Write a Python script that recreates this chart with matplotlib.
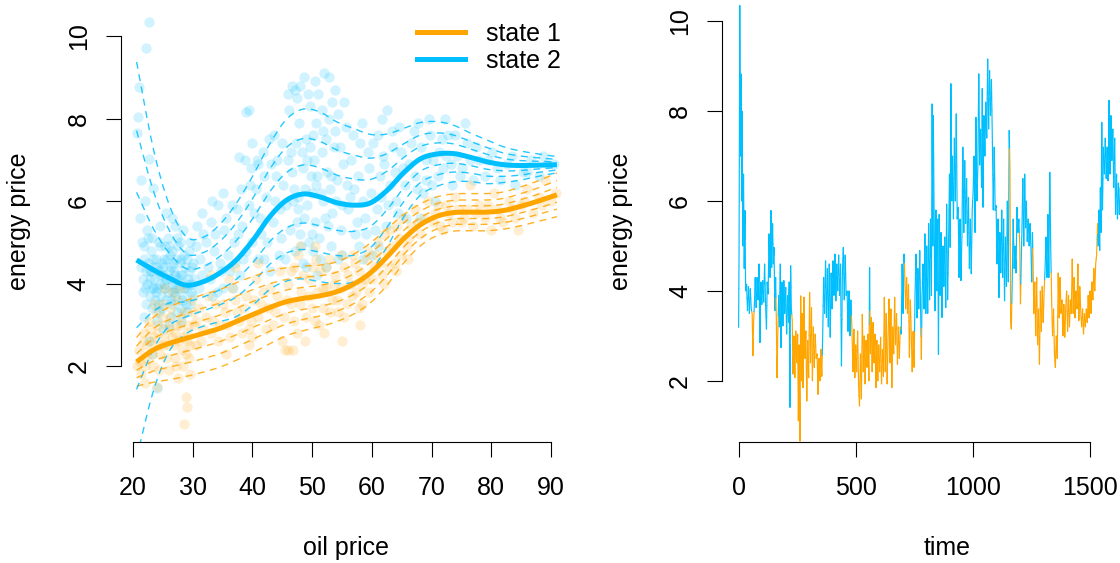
import numpy as np
import matplotlib
matplotlib.use("Agg")
import matplotlib.pyplot as plt
from matplotlib.collections import LineCollection
from matplotlib.lines import Line2D

plt.rcParams['font.family'] = ['Liberation Sans', 'DejaVu Sans']

ORANGE = '#FFA500'
BLUE = '#00BFFF'

# ---------------- left panel: state-dependent curves ----------------
curve_oil = [20.6, 23.4, 26.1, 28.9, 31.7, 34.5, 37.3, 40.1, 42.9, 45.7, 48.5, 51.3, 54.1,
             56.9, 59.7, 62.5, 65.3, 68.1, 70.9, 73.7, 76.5, 79.3, 82.1, 84.9, 87.7, 91.0]
mean_state1 = [2.10, 2.39, 2.55, 2.67, 2.79, 2.91, 3.08, 3.25, 3.42, 3.56, 3.64, 3.70, 3.80,
               3.98, 4.25, 4.64, 5.08, 5.42, 5.63, 5.72, 5.73, 5.73, 5.77, 5.87, 5.99, 6.15]
mean_state2 = [4.57, 4.33, 4.13, 3.96, 4.04, 4.25, 4.57, 5.05, 5.62, 6.02, 6.17, 6.10, 5.96,
               5.90, 5.95, 6.25, 6.68, 7.02, 7.14, 7.15, 7.06, 6.95, 6.88, 6.86, 6.87, 6.88]
sd_state1 = [0.30, 0.40, 0.45, 0.47, 0.48, 0.48, 0.48, 0.47, 0.45, 0.42, 0.40, 0.38, 0.37,
             0.37, 0.37, 0.35, 0.30, 0.26, 0.24, 0.23, 0.23, 0.23, 0.23, 0.24, 0.25, 0.27]
sd_state2 = [2.45, 1.50, 0.90, 0.60, 0.55, 0.60, 0.70, 0.80, 0.90, 1.00, 1.05, 1.05, 1.00,
             0.95, 0.85, 0.70, 0.55, 0.45, 0.40, 0.35, 0.30, 0.27, 0.22, 0.18, 0.14, 0.10]
quantile_z = [-1.96, -1.28, -0.67, 0.67, 1.28, 1.96]

# scatter points (oil price, energy price)
blue_oil = [22.6, 22.2, 21.0, 20.9, 20.7, 22.7, 21.3, 23.4, 22.0, 21.2, 25.5, 26.5, 27.0,
            21.5, 21.8, 22.1, 22.4, 22.8, 23.0, 23.3, 23.6, 23.9, 24.2, 24.5, 24.8, 25.0,
            25.3, 25.6, 25.9, 26.2, 26.4, 26.7, 27.0, 27.3, 27.6, 27.9, 28.2, 28.5, 28.8,
            29.1, 29.4, 29.7, 30.0, 23.1, 24.0, 25.1, 26.3, 21.9, 22.6, 24.6, 28.4, 29.5,
            22.3, 26.0, 28.0, 24.0, 23.2,
            22.5, 23.5, 24.3, 25.2, 26.0, 26.8, 27.5, 28.3, 29.0, 24.7,
            23.8, 25.7, 27.2, 28.7, 22.9, 24.4, 26.5, 28.1, 29.9, 21.7,
            25.4, 27.8, 23.2, 29.6, 26.9,
            21.3, 21.6, 21.9, 22.2, 22.5, 22.8, 23.1, 23.4, 23.7, 24.0,
            24.3, 24.6, 24.9, 25.2, 25.5, 25.8, 26.1, 26.4, 26.7, 27.0,
            27.3, 27.6, 27.9, 28.2, 28.5, 28.8, 29.1, 29.4, 29.7, 30.0,
            22.0, 23.0, 24.1, 25.1, 26.2, 27.1, 28.1, 29.2, 24.5, 26.6,
            30.5, 31.2, 31.8, 32.5, 33.0, 33.6, 34.2, 34.8, 35.3, 35.9, 36.5, 37.1, 37.6,
            38.1, 31.0, 33.2, 35.0, 36.8, 38.5, 30.2,
            30.8, 31.5, 32.2, 32.9, 33.8, 34.5, 35.6, 36.2, 36.9, 37.4, 33.3, 35.1, 31.6,
            34.0, 37.9,
            39.0, 39.5, 37.7, 38.8, 39.6, 40.3, 40.9, 41.5, 42.2, 42.8, 43.4, 44.0, 44.5,
            45.0, 45.6, 46.2, 46.6, 47.2, 41.0, 43.0, 44.8, 40.0, 41.8,
            38.3, 38.9, 39.4, 40.0, 40.6, 41.2, 41.9, 42.5, 43.1, 43.7, 44.2, 39.8, 42.0,
            43.6, 40.8,
            46.5, 47.0, 47.4, 47.8, 48.1, 48.5, 48.9, 49.2, 49.6, 50.0, 50.3, 50.7, 51.0,
            51.4, 51.8, 52.1, 52.5, 52.9, 53.2, 53.6, 54.0, 54.4, 54.8, 55.2, 55.6, 56.0,
            49.0, 50.8, 52.0, 53.9, 47.5, 48.7, 51.5, 46.8, 50.2, 53.0, 55.0, 49.8,
            44.6, 45.2, 45.5, 45.9, 46.3, 46.7, 47.1, 47.3, 47.7, 48.0,
            48.3, 48.6, 48.8, 49.1, 49.4, 49.7, 50.0, 50.4, 50.6, 50.9,
            51.2, 51.6, 51.9, 52.3, 52.6, 52.8, 53.1, 53.4, 53.8, 54.2,
            54.6, 55.0, 55.4, 55.8, 46.0, 47.9, 49.3, 50.5, 51.7, 53.3,
            48.4, 50.1, 52.4, 54.4, 47.6,
            56.5, 57.0, 57.5, 58.0, 58.6, 59.1, 59.6, 60.2, 60.8, 61.3, 61.9, 62.4, 63.0,
            63.5, 64.1, 64.6, 65.2, 65.7, 57.8, 60.0, 62.5, 61.7,
            56.3, 56.8, 57.2, 57.7, 58.3, 58.8, 59.4, 59.9, 60.5, 61.0, 61.6, 62.1, 62.7,
            63.3, 63.8, 64.4, 64.9, 65.5, 58.5, 61.0,
            66.5, 67.2, 67.8, 68.5, 69.1, 69.8, 70.5, 71.2, 72.0, 72.8, 73.5, 74.3, 75.1,
            76.0, 77.0, 78.0, 79.0, 80.2, 81.5, 82.7, 84.0, 85.3, 86.6, 88.0, 89.3, 90.5,
            72.2, 75.6, 70.0, 68.0,
            66.2, 67.0, 67.6, 68.3, 69.0, 69.6, 70.3, 71.0, 71.7, 72.5, 73.2, 74.0, 74.8,
            76.5, 77.5, 79.5, 81.0, 83.5, 86.0, 88.7]
blue_energy = [10.35, 9.72, 8.77, 8.04, 7.66, 7.03, 6.51, 6.31, 6.0, 5.6, 5.7, 5.6, 5.4,
               5.0, 4.6, 4.3, 4.0, 3.7, 4.8, 4.4, 4.1, 3.8, 3.5, 4.9, 4.5, 4.2,
               3.9, 3.6, 5.1, 4.7, 4.4, 4.0, 3.7, 3.3, 4.9, 4.5, 4.2, 3.9, 3.5,
               4.6, 4.3, 4.0, 3.7, 3.4, 3.1, 2.9, 3.2, 3.2, 2.6, 5.4, 5.3, 5.0,
               5.3, 3.0, 3.1, 1.47, 2.3,
               4.5, 3.9, 4.3, 4.0, 4.3, 3.8, 4.1, 3.7, 3.9, 3.7,
               4.6, 4.6, 4.6, 4.4, 4.1, 3.3, 3.5, 3.4, 4.4, 4.1,
               4.9, 5.0, 5.1, 3.5, 4.3,
               4.4, 3.8, 4.9, 3.5, 5.1, 4.3, 3.9, 4.6, 3.6, 4.4,
               5.0, 4.0, 3.4, 4.6, 4.1, 3.8, 4.9, 3.6, 4.5, 4.2,
               5.1, 3.9, 4.2, 3.6, 4.7, 4.0, 3.3, 4.8, 3.8, 4.5,
               3.9, 4.3, 3.9, 4.4, 4.1, 3.9, 4.6, 4.1, 4.2, 4.8,
               4.9, 4.6, 5.2, 4.4, 5.5, 4.8, 5.9, 4.3, 5.3, 4.7, 5.9, 4.5, 5.2,
               6.3, 3.9, 3.7, 3.9, 3.9, 4.6, 4.1,
               5.4, 4.2, 5.0, 4.1, 5.2, 4.5, 5.6, 4.3, 5.0, 5.8, 6.0, 6.2, 5.7,
               3.8, 4.2,
               8.16, 8.2, 7.07, 7.0, 6.4, 5.7, 6.9, 5.2, 6.1, 7.5, 5.5, 6.6, 4.7,
               7.4, 5.9, 8.2, 8.8, 8.7, 4.6, 4.3, 5.1, 7.4, 7.2,
               5.4, 4.8, 5.9, 5.0, 6.3, 5.6, 6.6, 5.0, 6.9, 6.0, 7.0, 6.8, 4.6,
               7.6, 7.0,
               7.2, 6.3, 5.5, 7.9, 4.9, 6.8, 7.5, 5.9, 8.3, 5.2, 7.0, 6.4, 8.6,
               4.6, 7.7, 5.6, 6.7, 9.0, 4.9, 7.3, 6.0, 8.1, 5.3, 6.9, 7.8, 5.8,
               4.4, 4.2, 9.1, 8.7, 8.5, 9.0, 6.2, 6.0, 7.6, 6.3, 4.7, 6.6,
               5.8, 6.4, 4.6, 7.0, 5.3, 6.7, 4.8, 7.4, 6.1, 5.2,
               7.2, 5.6, 6.3, 7.0, 5.0, 7.3, 6.2, 5.5, 7.9, 6.6,
               5.1, 7.2, 6.0, 7.5, 5.4, 8.0, 6.6, 5.7, 7.7, 6.5,
               7.3, 5.9, 8.4, 6.4, 8.6, 8.8, 8.6, 8.9, 8.2, 8.4,
               4.5, 4.8, 4.4, 4.6, 5.8,
               7.0, 6.3, 5.5, 7.4, 6.0, 5.2, 6.8, 7.4, 5.8, 6.6, 7.1, 5.4, 6.4,
               7.3, 6.0, 7.8, 6.8, 5.6, 4.9, 4.7, 8.2, 8.0,
               6.1, 7.6, 5.2, 6.6, 7.9, 5.6, 7.2, 6.2, 5.3, 7.6, 6.1, 6.9, 5.9,
               7.7, 6.7, 5.7, 7.2, 6.4, 4.6, 4.9,
               7.4, 6.6, 7.9, 6.2, 7.0, 7.6, 6.0, 7.2, 6.8, 7.6, 6.4, 7.1, 6.8,
               7.4, 6.5, 7.0, 6.6, 7.2, 6.5, 6.9, 6.4, 6.7, 7.0, 6.6, 6.9, 6.9,
               8.0, 7.9, 6.4, 5.6,
               6.9, 7.7, 6.3, 7.3, 6.5, 8.0, 7.0, 6.6, 7.5, 7.1, 6.9, 7.6, 6.6,
               7.0, 7.3, 7.0, 6.8, 7.1, 6.7, 7.1]
orange_oil = [20.6, 21.0, 21.4, 21.8, 22.2, 22.6, 23.0, 23.4, 23.8, 24.2, 24.6, 25.0, 25.4,
              25.8, 26.2, 26.6, 27.0, 27.4, 27.8, 28.2, 28.6, 29.0, 29.4, 29.8, 30.2, 28.5,
              29.0, 28.9, 27.6, 29.6, 26.0, 24.0, 22.0, 25.2, 28.0, 30.5, 27.2,
              21.2, 21.6, 22.0, 22.4, 22.8, 23.2, 23.6, 24.0, 24.4, 24.8,
              25.2, 25.6, 26.0, 26.4, 26.8, 27.2, 27.6, 28.0, 28.4, 28.8,
              29.2, 29.6, 30.0, 25.0, 27.0, 29.0, 23.5, 26.5, 28.3, 24.3,
              31.0, 31.8, 32.6, 33.4, 34.2, 35.0, 35.8, 36.6, 37.4, 38.2, 39.0, 39.8, 40.6,
              41.4, 42.2, 43.0, 43.8, 44.6, 45.0, 45.4, 33.0, 37.0, 41.0, 35.5, 39.5,
              30.6, 31.4, 32.2, 33.0, 33.8, 34.6, 35.4, 36.2, 37.0, 37.8, 38.6, 39.4, 40.2,
              41.0, 41.8, 42.6, 43.4, 44.2, 36.0, 40.0,
              45.8, 46.5, 47.0, 47.6, 48.2, 48.8, 49.4, 50.0, 50.6, 51.2, 51.8, 52.4, 53.0,
              53.6, 54.2, 54.8, 55.4, 56.0, 56.6, 57.2, 57.8, 58.4, 59.0, 59.6, 46.0, 48.0,
              52.0, 55.0, 58.0, 50.5,
              45.3, 45.9, 46.4, 46.9, 47.4, 47.9, 48.4, 48.9, 49.4, 49.9,
              50.4, 50.9, 51.4, 51.9, 52.4, 52.9, 53.4, 53.9, 54.4, 54.9,
              55.4, 55.9, 56.4, 56.9, 57.4, 57.9, 58.4, 58.9, 59.4, 46.8,
              60.3, 61.0, 61.7, 62.4, 63.1, 63.8, 64.5, 65.2, 65.9, 66.6, 67.3, 68.0, 68.7,
              69.4, 62.0, 64.0, 66.0,
              60.0, 60.7, 61.4, 62.1, 62.8, 63.5, 64.2, 64.9, 66.3, 67.7,
              70.2, 71.0, 72.0, 73.0, 74.0, 75.0, 76.0, 77.0, 78.0, 79.0, 80.0, 81.0, 82.0,
              83.0, 84.0, 85.0, 86.0, 87.0, 88.0, 89.0, 90.0, 90.8, 76.5, 80.5, 84.5,
              70.6, 71.5, 72.5, 73.5, 74.5, 75.5, 77.5, 79.5, 81.5, 83.5, 85.5, 88.5]
orange_energy = [2.0, 2.4, 1.8, 2.8, 2.2, 3.1, 2.6, 2.0, 3.3, 2.8, 2.3, 3.5, 3.0,
                 2.5, 3.2, 2.7, 2.2, 3.6, 3.0, 2.4, 3.3, 2.8, 2.2, 3.6, 3.0, 0.6,
                 1.0, 1.25, 1.7, 1.8, 1.9, 1.5, 1.6, 3.9, 3.9, 2.5, 2.0,
                 2.1, 2.6, 2.0, 2.5, 2.9, 2.3, 2.7, 3.0, 2.5, 3.2,
                 2.7, 2.2, 2.9, 3.4, 2.5, 3.0, 2.6, 3.2, 2.7, 2.3,
                 3.0, 2.5, 3.3, 2.5, 2.8, 2.6, 3.5, 3.8, 2.0, 1.9,
                 3.4, 2.9, 3.7, 3.1, 2.6, 3.5, 3.0, 3.9, 3.3, 2.8, 3.7, 3.1, 4.1,
                 3.5, 2.9, 3.9, 3.3, 4.3, 2.6, 2.4, 4.2, 4.4, 4.5, 2.3, 2.5,
                 3.1, 2.6, 3.2, 2.8, 3.5, 3.0, 3.3, 2.7, 3.6, 3.1, 3.4, 2.9, 3.6,
                 3.2, 3.8, 3.4, 3.0, 3.7, 4.1, 2.7,
                 3.6, 4.3, 3.1, 4.7, 3.8, 2.6, 4.1, 3.4, 4.6, 3.0, 3.9, 4.4, 3.3,
                 4.0, 3.6, 4.7, 3.2, 4.2, 3.7, 4.5, 3.4, 4.0, 4.6, 3.8, 2.4, 4.9,
                 2.8, 2.6, 3.0, 4.9,
                 3.2, 4.0, 3.5, 4.4, 2.8, 3.5, 4.2, 3.2, 3.7, 4.4,
                 3.1, 3.8, 4.3, 3.4, 3.9, 4.6, 3.6, 4.2, 3.3, 3.9,
                 4.4, 3.5, 4.0, 4.7, 3.8, 4.3, 3.5, 4.1, 4.8, 2.4,
                 4.4, 5.0, 4.2, 4.8, 5.3, 4.5, 5.1, 5.6, 4.9, 5.4, 5.8, 5.2, 5.6,
                 6.0, 4.0, 4.3, 4.6,
                 4.1, 4.7, 4.5, 5.2, 4.4, 4.9, 5.4, 4.7, 5.1, 5.5,
                 5.5, 5.9, 5.3, 5.7, 6.1, 5.5, 5.8, 5.4, 5.9, 5.6, 5.3, 5.8, 5.5,
                 6.0, 5.6, 5.9, 6.3, 5.7, 6.1, 6.5, 6.0, 6.2, 6.4, 6.2, 5.3,
                 5.7, 5.4, 5.9, 5.5, 5.8, 5.6, 5.7, 5.9, 5.6, 5.8, 6.0, 5.9]

# ---------------- right panel: time series ----------------
ts_time = [0, 2, 5, 8, 10, 13, 15, 18, 21, 24, 27, 30,
           34, 38, 42, 46, 50, 54, 58, 61, 64, 68, 71, 75, 79, 83, 87, 91, 95, 99, 103, 107,
           111, 115, 119, 122, 126, 130, 134, 138, 141, 145, 148, 151, 155, 158, 161, 164, 167, 171, 174, 178,
           181, 185, 189, 193, 197, 201, 205, 209, 213, 216, 219, 222, 225, 229, 232, 236, 240, 244, 248, 252,
           255, 258, 262, 265, 268, 271, 275, 279, 283, 287, 291, 295, 299, 303, 307, 311, 315, 319, 323, 327,
           331, 335, 339, 343, 347, 351, 355, 359, 363, 367, 371, 375, 379, 383, 387, 391, 395, 399, 403, 407,
           411, 415, 419, 423, 427, 431, 435, 439, 443, 447, 451, 455, 459, 463, 467, 471, 475, 479, 484, 488,
           492, 496, 500, 504, 508, 512, 516, 520, 524, 528, 532, 536, 540, 544, 548, 552, 556, 559, 562, 566,
           570, 574, 578, 582, 586, 590, 594, 598, 602, 606, 610, 614, 618, 622, 626, 630, 634, 638, 642, 646,
           650, 654, 658, 662, 666, 670, 674, 678, 682, 686, 690, 694, 698, 702, 706, 709, 713, 717, 721, 725,
           729, 733, 737, 741, 745, 749, 753, 757, 761, 765, 769, 773, 777, 780, 783, 787, 791, 795, 799, 803,
           807, 811, 815, 819, 823, 826, 829, 831, 834, 838, 842, 846, 850, 853, 856, 860, 864, 868, 872, 876,
           880, 884, 888, 892, 896, 900, 903, 906, 910, 913, 917, 921, 925, 929, 933, 937, 941, 945, 949, 953,
           957, 961, 965, 969, 973, 977, 981, 985, 989, 993, 997, 1001, 1005, 1009, 1013, 1017, 1021, 1025, 1029, 1033,
           1037, 1040, 1043, 1047, 1051, 1055, 1059, 1063, 1067, 1071, 1075, 1079, 1083, 1087, 1091, 1095, 1099, 1103, 1107, 1111,
           1115, 1119, 1123, 1127, 1131, 1135, 1139, 1143, 1147, 1151, 1155, 1158, 1161, 1164, 1168, 1172, 1176, 1180, 1184, 1188,
           1192, 1196, 1200, 1203, 1206, 1209, 1213, 1217, 1221, 1225, 1228, 1232, 1236, 1240, 1244, 1248, 1251, 1254, 1257, 1260,
           1264, 1268, 1272, 1276, 1280, 1284, 1288, 1292, 1296, 1300, 1304, 1308, 1312, 1316, 1320, 1324, 1328, 1332, 1336, 1340,
           1344, 1348, 1352, 1356, 1360, 1364, 1368, 1372, 1376, 1380, 1384, 1388, 1392, 1396, 1400, 1404, 1408, 1412, 1416, 1420,
           1424, 1428, 1432, 1436, 1440, 1444, 1448, 1452, 1456, 1460, 1464, 1468, 1472, 1476, 1480, 1484, 1488, 1492, 1496, 1500,
           1504, 1508, 1512, 1516, 1520, 1524, 1528, 1532, 1535, 1538, 1541, 1544, 1547, 1550, 1553, 1557, 1561, 1565, 1569, 1573,
           1577, 1581, 1585, 1589, 1593, 1597, 1601, 1605, 1609, 1613, 1617, 1621, 1625, 1629, 1633]
ts_energy = [3.19, 4.93, 10.35, 7.0, 8.83, 6.0, 8.0, 5.0, 6.6, 4.5, 5.79, 4.0,
             4.15, 3.56, 4.1, 3.5, 4.05, 3.6, 3.48, 2.56, 3.3, 3.78, 4.3, 3.63, 4.3, 3.8, 4.6, 2.85, 4.2, 3.7, 4.23, 3.75,
             4.6, 3.7, 3.15, 4.2, 3.93, 5.27, 4.3, 5.79, 4.52, 5.5, 4.6, 4.97, 3.56, 4.3, 3.4, 2.07, 3.0, 3.9, 3.2, 4.6,
             2.74, 4.2, 3.22, 4.23, 3.5, 4.08, 3.04, 3.9, 3.3, 4.2, 1.41, 4.56, 3.6, 3.34, 2.15, 3.0, 2.07, 3.11, 2.4, 3.04,
             1.11, 2.8, 0.66, 3.89, 2.0, 3.5, 1.85, 3.86, 2.5, 3.11, 1.55, 2.9, 2.07, 3.97, 2.4, 3.63, 2.0, 3.2, 2.3, 3.04,
             2.5, 2.6, 1.7, 2.5, 2.0, 2.7, 2.1, 3.04, 4.3, 3.5, 4.67, 3.41, 4.5, 3.2, 4.6, 2.97, 4.4, 3.6, 4.67, 3.9,
             4.82, 3.78, 4.6, 4.0, 4.8, 3.9, 4.6, 2.33, 4.4, 4.97, 3.8, 4.8, 3.9, 4.0, 3.1, 4.0, 3.0, 3.8, 3.1, 2.2,
             3.15, 2.07, 2.8, 2.2, 3.11, 1.9, 1.44, 2.6, 1.6, 3.48, 2.2, 3.0, 1.93, 2.9, 2.3, 3.04, 2.0, 4.52, 2.6, 3.41,
             2.2, 3.3, 2.4, 3.04, 1.85, 2.9, 2.0, 2.8, 2.2, 2.97, 1.93, 2.7, 2.1, 3.86, 2.2, 3.5, 1.93, 3.0, 3.82, 2.4,
             3.6, 1.85, 3.2, 2.6, 3.86, 2.8, 3.5, 2.37, 3.2, 2.5, 3.2, 3.04, 4.6, 3.5, 4.82, 4.4, 3.6, 4.3, 3.5, 4.15,
             2.52, 3.8, 3.0, 2.2, 3.1, 2.3, 3.9, 4.82, 3.4, 4.5, 3.6, 4.9, 3.5, 2.48, 3.9, 4.6, 3.6, 5.27, 3.5, 5.0,
             3.5, 5.5, 3.8, 5.6, 3.9, 8.16, 5.0, 7.9, 5.93, 3.56, 5.8, 4.0, 5.6, 2.59, 5.7, 3.9, 5.3, 3.41, 5.0, 4.1,
             5.2, 3.63, 5.93, 3.8, 5.0, 6.6, 4.97, 8.61, 6.0, 7.0, 5.6, 7.4, 6.0, 7.94, 5.6, 5.86, 4.3, 5.6, 4.23, 5.2,
             7.2, 5.3, 6.9, 5.5, 6.5, 5.0, 6.08, 4.5, 5.6, 4.38, 5.8, 6.2, 7.0, 5.3, 7.86, 6.0, 6.75, 8.83, 6.8, 7.6,
             6.3, 8.5, 5.86, 7.9, 7.0, 8.2, 7.4, 9.16, 7.6, 8.9, 7.9, 8.7, 7.35, 5.8, 7.2, 5.79, 5.9, 4.6, 5.6, 3.85,
             5.3, 4.4, 5.8, 4.3, 5.6, 3.78, 5.2, 4.1, 6.0, 4.2, 7.57, 6.75, 3.3, 3.15, 4.3, 5.6, 4.5, 5.0, 4.4, 5.86,
             5.3, 5.6, 4.97, 3.71, 4.6, 5.3, 6.5, 5.0, 6.6, 5.4, 6.0, 5.1, 5.6, 5.0, 5.5, 4.9, 4.2, 5.3, 4.6, 3.5,
             4.2, 3.0, 4.3, 2.8, 3.6, 2.37, 4.0, 3.1, 4.1, 3.3, 4.0, 4.5, 5.2, 4.3, 5.7, 4.3, 6.64, 5.0, 3.8, 3.0,
             3.6, 2.6, 2.3, 3.0, 2.5, 4.4, 3.4, 4.3, 3.5, 3.8, 3.0, 3.7, 2.97, 3.6, 4.0, 3.1, 3.9, 3.2, 3.8, 3.5,
             4.71, 3.5, 4.3, 3.4, 4.0, 3.6, 4.6, 3.34, 4.1, 3.6, 3.2, 3.6, 3.04, 3.5, 3.2, 3.6, 3.3, 3.9, 3.4, 4.0,
             3.5, 4.2, 3.8, 4.5, 4.0, 4.6, 4.8, 5.5, 5.0, 5.8, 4.9, 6.3, 5.3, 7.75, 5.8, 7.2, 6.6, 7.4, 6.5, 7.2,
             6.45, 8.24, 6.6, 7.9, 6.9, 7.6, 6.3, 7.4, 5.7, 6.6, 5.6, 6.4, 5.7, 6.3, 5.8]
# decoded state: time at which each regime starts and its state
regime_start = [0, 58, 68, 161, 171, 229, 359, 484, 559, 562, 694, 709, 753, 780, 783,
                1158, 1168, 1200, 1206, 1257, 1308, 1336, 1535]
regime_state = [2, 1, 2, 1, 2, 1, 2, 1, 2, 1, 2, 1, 2, 1, 2,
                1, 2, 1, 2, 1, 2, 1, 2]

# ---------------- figure ----------------
W, H = 1120, 563
fig = plt.figure(figsize=(W / 100, H / 100), dpi=100)


def px_axes(x0, x1, y0, y1):
    return fig.add_axes([x0 / W, 1 - y1 / H, (x1 - x0) / W, (y1 - y0) / H])


def smooth(x, y, k=10):
    """Draw-time Catmull-Rom path through the knots (for a smooth rendering)."""
    x = np.asarray(x, float)
    y = np.asarray(y, float)
    P = np.column_stack([x, y])
    P = np.vstack([2 * P[0] - P[1], P, 2 * P[-1] - P[-2]])
    out = []
    u = np.linspace(0, 1, k, endpoint=False)[:, None]
    for i in range(1, len(P) - 2):
        p0, p1, p2, p3 = P[i - 1], P[i], P[i + 1], P[i + 2]
        seg = 0.5 * ((2 * p1) + (-p0 + p2) * u + (2 * p0 - 5 * p1 + 4 * p2 - p3) * u ** 2
                     + (-p0 + 3 * p1 - 3 * p2 + p3) * u ** 3)
        out.append(seg)
    out.append(P[-2][None, :])
    out = np.vstack(out)
    return out[:, 0], out[:, 1]


def r_style(ax, xb, yb, xticks, yticks):
    for s in ('top', 'right'):
        ax.spines[s].set_visible(False)
    ax.spines['left'].set_bounds(*yb)
    ax.spines['bottom'].set_bounds(*xb)
    for s in ('left', 'bottom'):
        ax.spines[s].set_linewidth(0.8)
    ax.set_xticks(xticks)
    ax.set_yticks(yticks)
    ax.tick_params(axis='both', length=10.8, width=0.8, labelsize=18, colors='black')
    ax.tick_params(axis='x', pad=14)
    ax.tick_params(axis='y', pad=11, labelrotation=90)
    for lab in ax.get_yticklabels():
        lab.set_va('center')


ax1 = px_axes(121, 573.7, 5, 442)
ax1.set_xlim(17.99, 93.81)
ax1.set_ylim(0.1576, 10.752)

ax1.scatter(blue_oil, blue_energy, s=55, color=BLUE, alpha=0.18, linewidths=0, zorder=1)
ax1.scatter(orange_oil, orange_energy, s=55, color=ORANGE, alpha=0.18, linewidths=0, zorder=1)

m1, m2 = np.array(mean_state1), np.array(mean_state2)
s1, s2 = np.array(sd_state1), np.array(sd_state2)
for z in quantile_z:
    ax1.plot(*smooth(curve_oil, m2 + z * s2), color=BLUE, lw=1.0, ls=(0, (5, 4)), alpha=0.85, zorder=2)
    ax1.plot(*smooth(curve_oil, m1 + z * s1), color=ORANGE, lw=1.0, ls=(0, (5, 4)), alpha=0.85, zorder=2)
ax1.plot(*smooth(curve_oil, m1), color=ORANGE, lw=3.6, zorder=3, solid_capstyle='butt')
ax1.plot(*smooth(curve_oil, m2), color=BLUE, lw=3.6, zorder=3, solid_capstyle='butt')

r_style(ax1, (20, 90), (2, 10), [20, 30, 40, 50, 60, 70, 80, 90], [2, 4, 6, 8, 10])

handles = [Line2D([], [], color=ORANGE, lw=3.6), Line2D([], [], color=BLUE, lw=3.6)]
ax1.legend(handles, ['state 1', 'state 2'], frameon=False, fontsize=18, handlelength=1.9,
           handletextpad=0.85, labelspacing=0.1, loc='upper left', borderpad=0.4,
           bbox_to_anchor=(407 / W, 1 - 12 / H), bbox_transform=fig.transFigure, borderaxespad=0)

# right panel
ax2 = px_axes(722.2, 1169.8, 5, 442)
ax2.set_xlim(-70, 1840.3)
ax2.set_ylim(0.64, 10.36)

t = np.array(ts_time, dtype=float)
e = np.array(ts_energy, dtype=float)
idx = np.searchsorted(regime_start, t, side='right') - 1
st = np.array(regime_state)[idx]
pieces, cols = [], []
n = len(t)
for i in range(n):
    pts = []
    if i > 0:
        pts.append(((t[i - 1] + t[i]) / 2, (e[i - 1] + e[i]) / 2))
    pts.append((t[i], e[i]))
    if i < n - 1:
        pts.append(((t[i] + t[i + 1]) / 2, (e[i] + e[i + 1]) / 2))
    pieces.append(pts)
    cols.append(ORANGE if st[i] == 1 else BLUE)
ax2.add_collection(LineCollection(pieces, colors=cols, linewidths=0.85, capstyle='round', joinstyle='round'))

r_style(ax2, (0, 1500), (2, 10), [0, 500, 1000, 1500], [2, 4, 6, 8, 10])

# axis titles
fig.text(346 / W, 1 - 548 / H, 'oil price', ha='center', va='center', fontsize=18)
fig.text(947 / W, 1 - 548 / H, 'time', ha='center', va='center', fontsize=18)
fig.text(19 / W, 1 - 221 / H, 'energy price', ha='center', va='center', rotation=90, fontsize=18)
fig.text(621 / W, 1 - 221 / H, 'energy price', ha='center', va='center', rotation=90, fontsize=18)

fig.savefig('out.png', dpi=100)
